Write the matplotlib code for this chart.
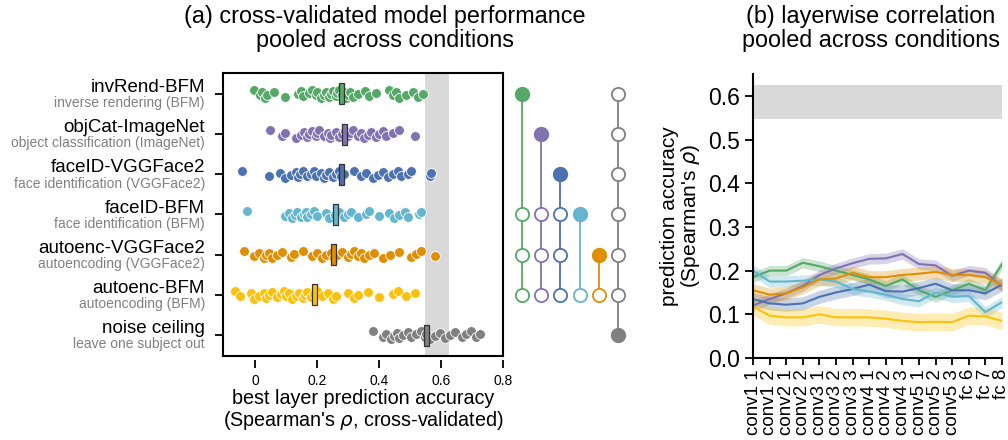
import matplotlib
matplotlib.use("Agg")
import matplotlib.pyplot as plt
import numpy as np

plt.rcParams['font.family'] = ['Liberation Sans', 'DejaVu Sans']
plt.rcParams['mathtext.fontset'] = 'dejavusans'

# ---- data ----
models = ['invRend-BFM', 'objCat-ImageNet', 'faceID-VGGFace2', 'faceID-BFM',
          'autoenc-VGGFace2', 'autoenc-BFM', 'noise ceiling']
tasks = ['inverse rendering (BFM)', 'object classification (ImageNet)',
         'face identification (VGGFace2)', 'face identification (BFM)',
         'autoencoding (VGGFace2)', 'autoencoding (BFM)', 'leave one subject out']
colors = ['#55a868', '#8172b2', '#4c72b0', '#64b5cd', '#de8f05', '#fcc10b', '#808080']

invrend_bfm = [-0.005, 0.016, 0.022, 0.03, 0.038, 0.06, 0.094, 0.137, 0.146, 0.155, 0.173,
               0.184, 0.195, 0.2, 0.211, 0.22, 0.227, 0.238, 0.245, 0.249, 0.26, 0.265,
               0.27, 0.279, 0.287, 0.293, 0.298, 0.305, 0.314, 0.33, 0.354, 0.368, 0.39,
               0.433, 0.444, 0.455, 0.465, 0.487, 0.509, 0.525, 0.541]
objcat_imagenet = [0.047, 0.087, 0.094, 0.13, 0.146, 0.157, 0.165, 0.173, 0.184, 0.195,
                   0.2, 0.206, 0.222, 0.233, 0.24, 0.244, 0.26, 0.27, 0.281, 0.289, 0.298,
                   0.305, 0.314, 0.33, 0.341, 0.352, 0.363, 0.373, 0.39, 0.4, 0.411,
                   0.422, 0.444, 0.465, 0.516]
faceid_vggface2 = [-0.043, 0.043, 0.079, 0.097, 0.114, 0.13, 0.137, 0.145, 0.152, 0.168,
                   0.179, 0.19, 0.195, 0.211, 0.22, 0.227, 0.238, 0.249, 0.26, 0.27, 0.277,
                   0.287, 0.319, 0.341, 0.357, 0.379, 0.395, 0.411, 0.427, 0.444, 0.46,
                   0.471, 0.492, 0.503, 0.563, 0.568]
faceid_bfm = [-0.027, 0.097, 0.108, 0.119, 0.128, 0.135, 0.146, 0.157, 0.162, 0.168, 0.179,
              0.189, 0.2, 0.227, 0.238, 0.258, 0.27, 0.287, 0.298, 0.308, 0.33, 0.357,
              0.368, 0.4, 0.433, 0.449, 0.465, 0.482, 0.492, 0.527, 0.534]
autoenc_vggface2 = [-0.038, -0.005, 0.011, 0.027, 0.035, 0.043, 0.054, 0.068, 0.087, 0.114,
                    0.124, 0.152, 0.184, 0.2, 0.216, 0.227, 0.244, 0.253, 0.263, 0.281,
                    0.298, 0.308, 0.319, 0.33, 0.341, 0.352, 0.368, 0.384, 0.411, 0.436,
                    0.465, 0.503, 0.519, 0.536, 0.581]
autoenc_bfm = [-0.065, -0.049, -0.016, -0.005, 0.011, 0.027, 0.035, 0.043, 0.054, 0.07,
               0.081, 0.092, 0.1, 0.108, 0.119, 0.13, 0.141, 0.152, 0.16, 0.168, 0.179,
               0.19, 0.2, 0.216, 0.233, 0.249, 0.26, 0.298, 0.319, 0.33, 0.363, 0.4,
               0.444, 0.46, 0.487, 0.516]
noise_ceiling = [0.379, 0.411, 0.422, 0.438, 0.449, 0.458, 0.465, 0.476, 0.492, 0.503,
                 0.519, 0.536, 0.547, 0.552, 0.563, 0.579, 0.595, 0.611, 0.628, 0.644,
                 0.666, 0.682, 0.698, 0.714, 0.725]
scores = [invrend_bfm, objcat_imagenet, faceid_vggface2, faceid_bfm,
          autoenc_vggface2, autoenc_bfm, noise_ceiling]
medians = [0.279, 0.289, 0.277, 0.258, 0.253, 0.19, 0.552]
ceiling_band = [0.547, 0.625]

# pairwise comparison: filled row per column, open rows it beats
sig_filled = [0, 1, 2, 3, 4, 6]
sig_open = [[3, 4, 5], [3, 4, 5], [3, 4, 5], [5], [5], [0, 1, 2, 3, 4, 5]]
sig_colors = colors[:5] + [colors[6]]

layers = ['conv1 1', 'conv1 2', 'conv2 1', 'conv2 2', 'conv3 1', 'conv3 2', 'conv3 3',
          'conv4 1', 'conv4 2', 'conv4 3', 'conv5 1', 'conv5 2', 'conv5 3',
          'fc 6', 'fc 7', 'fc 8']
layer_invrend = [0.185, 0.2, 0.2, 0.218, 0.21, 0.2, 0.19, 0.18, 0.165, 0.18, 0.155, 0.14,
                 0.155, 0.17, 0.155, 0.215]
layer_objcat = [0.12, 0.135, 0.148, 0.165, 0.19, 0.205, 0.217, 0.227, 0.228, 0.238, 0.215,
                0.212, 0.188, 0.2, 0.195, 0.165]
layer_faceid_vgg = [0.135, 0.125, 0.122, 0.125, 0.14, 0.15, 0.158, 0.168, 0.153, 0.152,
                    0.16, 0.17, 0.155, 0.155, 0.148, 0.168]
layer_faceid_bfm = [0.2, 0.175, 0.175, 0.177, 0.18, 0.175, 0.158, 0.152, 0.145, 0.135,
                    0.13, 0.15, 0.14, 0.142, 0.105, 0.128]
layer_autoenc_vgg = [0.155, 0.145, 0.148, 0.162, 0.18, 0.182, 0.195, 0.185, 0.185, 0.19,
                     0.193, 0.197, 0.19, 0.19, 0.185, 0.168]
layer_autoenc_bfm = [0.118, 0.097, 0.093, 0.093, 0.1, 0.093, 0.093, 0.093, 0.09, 0.085,
                     0.082, 0.083, 0.082, 0.097, 0.095, 0.085]
layer_curves = [layer_invrend, layer_objcat, layer_faceid_vgg, layer_faceid_bfm,
                layer_autoenc_vgg, layer_autoenc_bfm]
layer_err = [0.012, 0.012, 0.015, 0.013, 0.015, 0.02]

# ---- figure ----
W, H = 1008, 440
fig = plt.figure(figsize=(W / 100, H / 100), dpi=100)

def box(x0, y0, x1, y1):
    return [x0 / W, 1 - y1 / H, (x1 - x0) / W, (y1 - y0) / H]

# panel a: strip plot
ax = fig.add_axes(box(223, 73, 503, 356))
ax.axvspan(ceiling_band[0], ceiling_band[1], color='#d9d9d9', lw=0, zorder=0)
for i, vals in enumerate(scores):
    vals = np.asarray(vals)
    k = np.arange(len(vals))
    jit = ((k * 7) % 11 - 5) / 55.0
    ax.scatter(vals, i + jit, s=50, color=colors[i], edgecolor='white',
               linewidth=0.6, zorder=2)
    ax.barh(i, 0.016, left=medians[i] - 0.008, height=0.52, color=colors[i],
            edgecolor='#333333', linewidth=0.9, zorder=3)
ax.set_xlim(-0.105, 0.8)
ax.set_ylim(6.52, -0.52)
ax.set_yticks(range(len(models)))
ax.set_yticklabels([])
ax.set_xticks([0, 0.2, 0.4, 0.6, 0.8])
ax.set_xticklabels(['0', '0.2', '0.4', '0.6', '0.8'], fontsize=14.5)
ax.tick_params(axis='x', length=6, width=1.3, pad=4)
ax.tick_params(axis='y', length=6, width=1.3)
for sp in ax.spines.values():
    sp.set_linewidth(1.5)
ax.spines['bottom'].set_position(('outward', 3))
ax.spines['bottom'].set_linewidth(0)
ax.plot([0, 1], [0, 0], transform=ax.transAxes, color='k', lw=1.5, clip_on=False)
for i in range(len(models)):
    ax.text(-0.065, i - 0.16, models[i], transform=ax.get_yaxis_transform(),
            ha='right', va='center', fontsize=13.5)
    ax.text(-0.065, i + 0.23, tasks[i], transform=ax.get_yaxis_transform(),
            ha='right', va='center', fontsize=10, color='#808080')
ax.set_xlabel("best layer prediction accuracy\n(Spearman's $\\rho$, cross-validated)",
              fontsize=14.2, labelpad=1, linespacing=1.05)
fig.text(385 / W, 1 - 5 / H, "(a) cross-validated model performance\npooled across conditions",
         ha='center', va='top', fontsize=16.8, linespacing=1.05)

# panel a: pairwise significance dots
axd = fig.add_axes(box(505, 73, 640, 356))
for c in range(len(sig_filled)):
    rows = [sig_filled[c]] + sig_open[c]
    col = sig_colors[c]
    axd.plot([c, c], [min(rows), max(rows)], color=col, lw=1.3, zorder=1)
    axd.plot([c] * len(sig_open[c]), sig_open[c], 'o', ms=9.5, mfc='white', mec=col,
             mew=1.3, zorder=2)
    axd.plot([c], [sig_filled[c]], 'o', ms=10, color=col, zorder=3)
axd.set_xlim(-0.885, 6.15)
axd.set_ylim(6.52, -0.52)
axd.axis('off')

# panel b: layerwise correlation
axb = fig.add_axes(box(753, 74, 1002, 358))
x = np.arange(len(layers))
axb.fill_between(x, ceiling_band[0], ceiling_band[1], color='#d9d9d9', lw=0, zorder=0)
for i, yv in enumerate(layer_curves):
    yv = np.asarray(yv)
    axb.fill_between(x, yv - layer_err[i], yv + layer_err[i], color=colors[i],
                     alpha=0.3, lw=0)
    axb.plot(x, yv, color=colors[i], lw=1.5)
axb.set_xlim(0, len(layers) - 1)
axb.set_ylim(0, 0.65)
axb.set_yticks([0, 0.1, 0.2, 0.3, 0.4, 0.5, 0.6])
axb.set_yticklabels(['0.0', '0.1', '0.2', '0.3', '0.4', '0.5', '0.6'], fontsize=16.5)
axb.set_xticks(x)
axb.set_xticklabels(layers, rotation=90, fontsize=13.5)
axb.tick_params(length=6, width=1.3)
axb.tick_params(axis='x', length=5, pad=3)
axb.spines['top'].set_visible(False)
axb.spines['right'].set_visible(False)
axb.spines['left'].set_linewidth(1.5)
axb.spines['bottom'].set_linewidth(1.5)
axb.set_ylabel("prediction accuracy\n(Spearman's $\\rho$)", fontsize=15,
               linespacing=1.0, labelpad=4)
fig.text(871 / W, 1 - 5 / H, "(b) layerwise correlation\npooled across conditions",
         ha='center', va='top', fontsize=16.8, linespacing=1.05)

fig.savefig('out.png', dpi=100)
